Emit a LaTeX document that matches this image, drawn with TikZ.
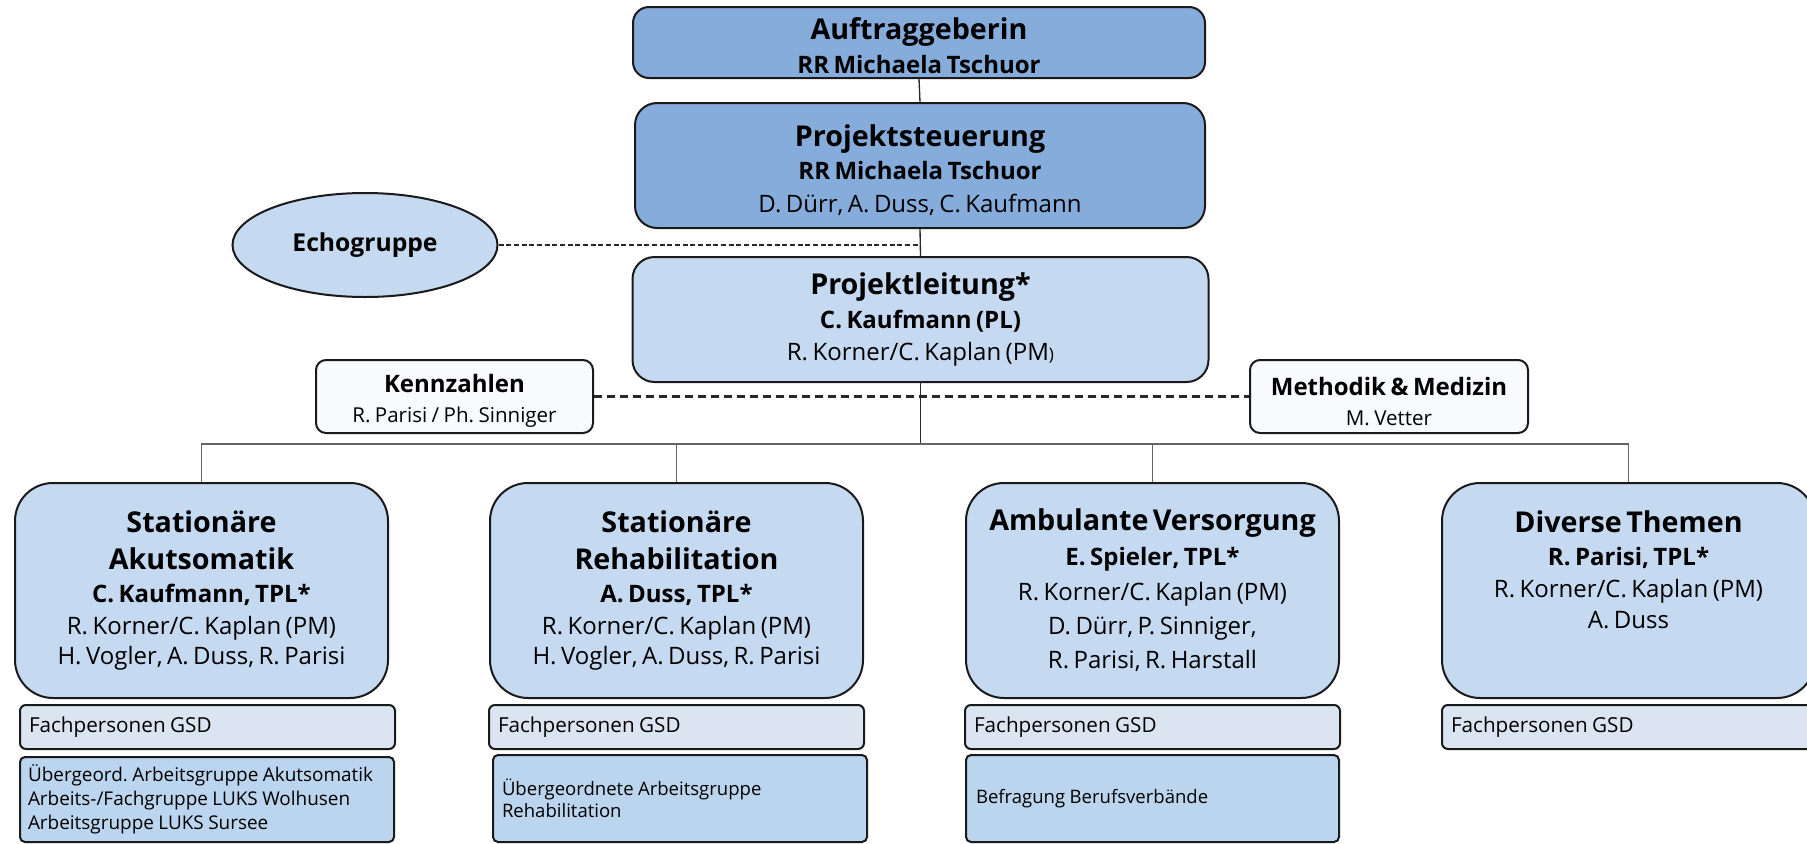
\documentclass[tikz,border=0pt]{standalone}
\usepackage{fontspec}
\setmainfont{Open Sans}
\frenchspacing
\usetikzlibrary{shapes.geometric}
\definecolor{darkbl}{RGB}{133,172,218}
\definecolor{lightbl}{RGB}{197,217,241}
\definecolor{fachbl}{RGB}{219,229,241}
\definecolor{underbl}{RGB}{188,213,238}
\definecolor{whitebl}{RGB}{248,250,253}
\definecolor{bordc}{RGB}{26,26,26}
\definecolor{linec}{RGB}{40,40,40}
\definecolor{busc}{RGB}{100,100,100}
\newcommand\Ln[4]{{\fontsize{#1}{#2}\selectfont#3\noindent #4\par}}
\newcommand\Hr[1]{\rule{0pt}{#1}}
\tikzset{
  basebox/.style={draw=bordc, line width=1.5pt, inner sep=0pt},
  topbox/.style={basebox, fill=darkbl, rounded corners=16.5pt, align=center, text width=405pt},
  plbox/.style={basebox, fill=lightbl, rounded corners=16.5pt, align=center, text width=405pt},
  sidebox/.style={basebox, fill=whitebl, rounded corners=7.5pt, align=center, text width=195pt, minimum height=54.75pt},
  teambox/.style={basebox, fill=lightbl, rounded corners=28.5pt, align=center, text width=262pt, minimum width=279.75pt, minimum height=161.25pt},
  fachbox/.style={basebox, fill=fachbl, rounded corners=4.5pt, align=left, inner xsep=6.75pt, text width=267.75pt, minimum height=33pt},
  underbox/.style={basebox, fill=underbl, rounded corners=3.75pt, align=left},
  echobox/.style={basebox, ellipse, fill=lightbl, minimum width=198.75pt, minimum height=78pt},
  conn/.style={draw=linec, line width=1pt},
  busline/.style={draw=busc, line width=1.2pt},
  thindash/.style={draw=linec, line width=1pt, dash pattern=on 3.75pt off 2pt},
  thickdash/.style={draw=linec, line width=1.9pt, dash pattern=on 6pt off 3.75pt}
}
\begin{document}
\begin{tikzpicture}[x=0.75pt,y=-0.75pt]
\useasboundingbox (0,0) rectangle (1807,843);

% top chain
\node[topbox, minimum width=429pt, minimum height=53.25pt, rounded corners=12pt] (auf) at (919,42.5)
  {\Ln{21.5}{24}{\bfseries}{\Hr{21pt}Auftraggeberin}\Ln{18}{25}{\bfseries}{RR Michaela Tschuor}};
\node[topbox, minimum width=427.5pt, minimum height=93.75pt] (ps) at (920,165.5)
  {\Ln{21.5}{24}{\bfseries}{\Hr{23pt}Projektsteuerung}\Ln{18}{24.5}{\bfseries}{RR Michaela Tschuor}\Ln{18}{24.75}{}{D. Dürr, A. Duss, C. Kaufmann}};
\node[plbox, minimum width=432pt, minimum height=93.75pt] (pl) at (920.5,319.5)
  {\Ln{21.5}{24}{\bfseries}{Projektleitung*}\Ln{18}{26}{\bfseries}{C. Kaufmann (PL)}\Ln{18}{24}{}{R. Korner/C. Kaplan (PM{\fontsize{13}{13}\selectfont)}}};

\node[echobox] (echo) at (365,245) {\fontsize{18.5}{20}\selectfont\bfseries Echogruppe};

\node[sidebox, minimum width=207.75pt] (kz) at (454.5,396.5)
  {\Ln{18}{20}{\bfseries}{\Hr{20.5pt}Kennzahlen}\Ln{15.4}{22.5}{}{R. Parisi / Ph. Sinniger}};
\node[sidebox, minimum width=208.5pt] (md) at (1389,396.5)
  {\Ln{18}{20}{\bfseries}{\Hr{20.5pt}Methodik \& Medizin}\Ln{15.4}{22.5}{}{M. Vetter}};

% team boxes
\node[teambox] (b1) at (201.5,590.5)
  {\Ln{21.5}{24}{\bfseries}{Stationäre}\Ln{21.5}{27.75}{\bfseries}{Akutsomatik}\Ln{18}{24.75}{\bfseries}{C. Kaufmann, TPL*}\Ln{18}{24}{}{R. Korner/C. Kaplan (PM)}\Ln{18}{22.5}{}{H. Vogler, A. Duss, R. Parisi}};
\node[teambox] (b2) at (676.5,590.5)
  {\Ln{21.5}{24}{\bfseries}{Stationäre}\Ln{21.5}{27.75}{\bfseries}{Rehabilitation}\Ln{18}{24.75}{\bfseries}{A. Duss, TPL*}\Ln{18}{24}{}{R. Korner/C. Kaplan (PM)}\Ln{18}{22.5}{}{H. Vogler, A. Duss, R. Parisi}};
\node[teambox] (b3) at (1152.5,590.5)
  {\Ln{21.5}{24}{\bfseries}{Ambulante Versorgung}\Ln{18}{26.25}{\bfseries}{E. Spieler, TPL*}\Ln{18}{26.25}{}{R. Korner/C. Kaplan (PM)}\Ln{18}{25.5}{}{D. Dürr, P. Sinniger,}\Ln{18}{25.5}{}{R. Parisi, R. Harstall}};
\node[teambox] (b4) at (1628.5,590.5)
  {\Ln{21.5}{24}{\bfseries}{Diverse Themen}\Ln{18}{24.75}{\bfseries}{R. Parisi, TPL*}\Ln{18}{24}{}{R. Korner/C. Kaplan (PM)}\Ln{18}{23.25}{}{A. Duss}\vskip 31pt\nointerlineskip\null};

% Fachpersonen boxes
\node[fachbox] (f1) at (207.5,727) {\Ln{15.5}{18}{}{Fachpersonen GSD}};
\node[fachbox] (f2) at (676.5,727) {\Ln{15.5}{18}{}{Fachpersonen GSD}};
\node[fachbox] (f3) at (1152.5,727) {\Ln{15.5}{18}{}{Fachpersonen GSD}};
\node[fachbox] (f4) at (1629.5,727) {\Ln{15.5}{18}{}{Fachpersonen GSD}};

% working group boxes
\node[underbox, inner xsep=6pt, text width=268.5pt, minimum height=63.75pt] (u1) at (207,799.5)
  {\Ln{14.2}{18}{}{Übergeord. Arbeitsgruppe Akutsomatik}\Ln{14.2}{18}{}{Arbeits-/Fachgruppe LUKS Wolhusen}\Ln{14.2}{18}{}{Arbeitsgruppe LUKS Sursee}};
\node[underbox, inner xsep=6.75pt, text width=267pt, minimum height=65.25pt] (u2) at (680,798.5)
  {\Ln{13.9}{16.5}{}{Übergeordnete Arbeitsgruppe}\Ln{13.9}{16.5}{}{Rehabilitation}};
\node[underbox, inner xsep=7.5pt, text width=264.75pt, minimum height=65.25pt] (u3) at (1152.5,798.5)
  {\Ln{13.9}{16.5}{}{Befragung Berufsverbände}};

% connectors
\coordinate (busL) at (202,444);
\path[conn] (auf.south) -- (ps.north);
\path[conn] (ps.south) -- (pl.north);
\path[thindash] (echo.east) -- (echo.east -| auf.south);
\path[thickdash] (kz.east) -- (md.west);
\path[conn] (pl.south) -- (pl.south |- busL);
\path[busline] (b1.north) -- (b1.north |- busL) -- (b4.north |- busL) -- (b4.north);
\path[busline] (b2.north) -- (b2.north |- busL);
\path[busline] (b3.north) -- (b3.north |- busL);
\end{tikzpicture}
\end{document}
